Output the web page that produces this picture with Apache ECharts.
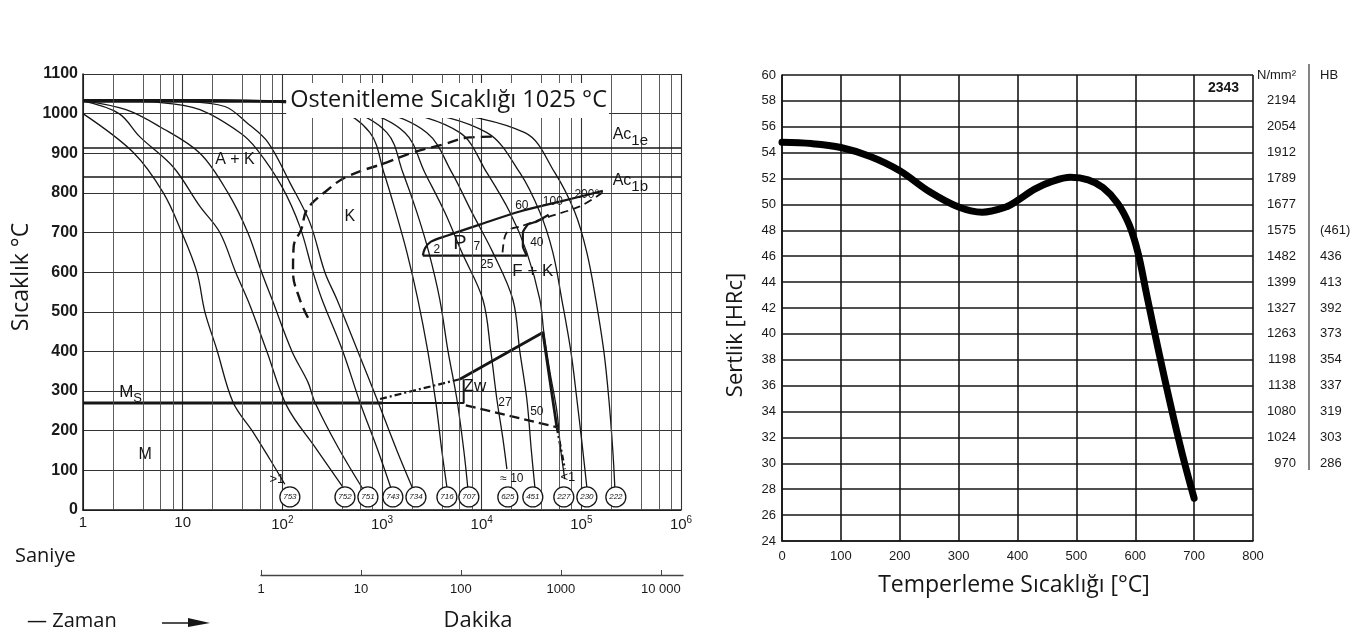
<!DOCTYPE html>
<html>
<head>
<meta charset="utf-8">
<script src="https://cdn.jsdelivr.net/npm/echarts@6.0.0/dist/echarts.min.js"></script>
<style>
html,body{margin:0;padding:0;background:#fff;}
#chart{width:1368px;height:635px;}
</style>
</head>
<body>
<div id="chart"></div>
<script>
// ---------------- LEFT: CCT diagram (time [s] log, temperature [°C]) ----------------
const timeTickLabels = ['1', '10', '10{s|2}', '10{s|3}', '10{s|4}', '10{s|5}', '10{s|6}'];
const minuteTicks = [1, 10, 100, 1000, 10000];
const minuteTickLabels = ['1', '10', '100', '1000', '10 000'];
const minorGridFactors = [2, 4, 6, 8];

const austenitizingLine = [[1, 1030], [84, 1030]];
const ac1eTemp = 915;
const ac1bTemp = 840;

const msThick = [[1, 270], [1000, 270]];
const msThin = [[1000, 270], [6600, 270], [6600, 330]];
const zwEdge = [[6000, 272], [6000, 330]];
const zwStart = [[955, 280], [6039, 330]];
const zwUpper = [[6039, 330], [41100, 448], [56760, 209]];
const zwLower = [[6934, 264], [56760, 209]];
const zwTail = [[56760, 209], [68230, 103]];

const carbideStart = [[181, 485], [150, 531], [128, 600], [130, 665], [155, 708], [177, 758], [270, 803], [445, 841], [1120, 877], [2040, 902], [4080, 922], [7600, 940], [14200, 942]];

const pearliteStart = [[2570, 642], [2700, 660], [3100, 677], [4477, 692], [9550, 720], [24150, 753], [60810, 778], [164300, 805]];
const pearliteBase = [[2570, 642], [28380, 642], [25900, 665], [25900, 700], [29040, 720], [35800, 728], [47000, 745]];
const pearliteEnd = [[16200, 650], [17100, 690], [19190, 708], [24150, 715], [45000, 738], [96600, 766], [164300, 801]];

const cool753 = [[1, 1000], [3.2, 902], [6.4, 800], [9.8, 700], [13.9, 600], [16.7, 500], [22, 405], [32, 272], [51, 196], [75, 128], [106, 65]];
const cool752 = [[1, 1032], [2.3, 1000], [3.7, 942], [8, 866], [14.9, 766], [23.6, 700], [34, 600], [46, 524], [70, 400], [111, 262], [212, 159], [405, 58]];
const cool751 = [[1, 1033], [2.7, 1010], [5.9, 967], [14.9, 900], [28.5, 800], [45, 700], [62, 600], [79, 531], [125, 400], [181, 322], [212, 272], [361, 159], [643, 53]];
const cool743 = [[1, 1034], [6, 1028], [14.9, 1010], [37.6, 952], [55.6, 910], [99, 816], [150, 715], [203, 600], [250, 531], [405, 400], [600, 272], [910, 150], [1257, 48]];
const cool734 = [[1, 1035], [10, 1031], [26.5, 1018], [44, 977], [72, 927], [119, 826], [189, 725], [267, 600], [353, 531], [573, 400], [889, 280], [1410, 150], [2042, 53]];
const cool716 = [[1, 1035], [47, 1031], [337, 1010], [757, 952], [1045, 851], [1378, 751], [1778, 650], [2291, 531], [2884, 400], [3467, 272], [3981, 150], [4477, 58]];
const cool707 = [[1, 1035], [60, 1031], [420, 1010], [1120, 952], [1622, 851], [2239, 751], [2951, 650], [3802, 531], [4600, 400], [5636, 280], [6622, 150], [7278, 53]];
const cool625 = [[1, 1035], [80, 1031], [560, 1010], [1698, 952], [2692, 851], [4266, 751], [6324, 650], [10280, 531], [12360, 400], [14190, 280], [16330, 180], [17910, 103]];
const cool451 = [[1, 1035], [100, 1031], [800, 1010], [2818, 952], [5023, 851], [7980, 751], [12940, 650], [20560, 531], [24150, 400], [28380, 280], [31500, 150], [34170, 58]];
const cool227 = [[1, 1035], [130, 1031], [1200, 1010], [6039, 952], [11270, 851], [19190, 751], [28380, 650], [38360, 531], [42070, 448], [48300, 350], [56760, 250], [62230, 150], [68230, 78]];
const cool230 = [[1, 1035], [160, 1031], [1800, 1010], [11270, 952], [24150, 851], [38360, 751], [51760, 650], [63680, 531], [78500, 400], [90150, 280], [103500, 150], [113500, 58]];
const cool222 = [[1, 1035], [200, 1031], [2500, 1010], [27100, 952], [54200, 851], [86100, 751], [113500, 650], [139700, 531], [168300, 400], [188800, 280], [206900, 150], [216700, 58]];
const coolingCurves = [cool753, cool752, cool751, cool743, cool734, cool716, cool707, cool625, cool451, cool227, cool230, cool222];

const hardnessLabelTimes = [119, 425, 722, 1285, 2190, 4480, 7440, 18300, 32600, 66700, 113600, 222000];
const hardnessLabels = ['753', '752', '751', '743', '734', '716', '707', '625', '451', '227', '230', '222'];
const hardnessLabelTemp = 33;

const noteTimes = [33.5, 477, 6039, 32600, 3550, 8930, 11270, 35800, 25300, 51760, 113500, 8540, 17100, 35800, 20100, 73300, 88, 4.2];
const noteTemps = [884, 740, 672, 602, 657, 665, 620, 675, 768, 778, 795, 312, 272, 249, 78, 83, 78, 141];
const noteTexts = ['A + K', 'K', 'P', 'F + K', '2', '7', '25', '40', '60', '100', '200°', 'Zw', '27', '50', '≈ 10', '<1', '>1', 'M'];
const noteSizes = [16, 16, 20, 17, 12, 12, 12, 12, 12, 12, 12, 17, 12, 12, 12, 13, 13, 16];

// ---------------- RIGHT: tempering curve ----------------
const temperingTemp = [0, 50, 100, 150, 200, 250, 300, 340, 380, 400, 430, 460, 490, 520, 545, 570, 590, 605, 620, 640, 660, 680, 700];
const hardnessHRC = [54.8, 54.7, 54.4, 53.7, 52.6, 51.0, 49.8, 49.4, 49.8, 50.3, 51.2, 51.8, 52.1, 51.9, 51.3, 50.1, 48.4, 46.2, 42.9, 38.6, 34.5, 30.7, 27.3];
const hrcLevels = [60, 58, 56, 54, 52, 50, 48, 46, 44, 42, 40, 38, 36, 34, 32, 30];
const tensileLabels = ['N/mm²', '2194', '2054', '1912', '1789', '1677', '1575', '1482', '1399', '1327', '1263', '1198', '1138', '1080', '1024', '970'];
const brinellLabels = ['HB', '', '', '', '', '', '(461)', '436', '413', '392', '373', '354', '337', '319', '303', '286'];
const steelGrade = '2343';

// ---------------- build ----------------
const INK = '#161616';
const SANS = '"Liberation Sans", Arial, sans-serif';
const TITLE = '"Open Sans", "Noto Sans", sans-serif';

const minorGridTimes = [];
for (let d = 0; d < 6; d++) minorGridTimes.push(...minorGridFactors.map(f => f * Math.pow(10, d)));

function lineSeries(data, opts) {
  return Object.assign({
    type: 'line', xAxisIndex: 0, yAxisIndex: 0, data: data, showSymbol: false, silent: true,
    lineStyle: { color: INK, width: 1.3 }, z: 3
  }, opts || {});
}

const plainLabel = { textBorderWidth: 0, textBorderColor: 'transparent', textShadowBlur: 0 };

const series = [];
series.push({
  type: 'line', xAxisIndex: 0, yAxisIndex: 0, data: [], silent: true, z: 1,
  markLine: {
    silent: true, symbol: ['none', 'none'], animation: false, label: { show: false },
    lineStyle: { color: '#4a4a4a', width: 0.9, type: 'solid' },
    data: minorGridTimes.map(v => ({ xAxis: v }))
  }
});
series.push({
  type: 'line', xAxisIndex: 0, yAxisIndex: 0, data: [], silent: true, z: 2,
  markLine: {
    silent: true, symbol: ['none', 'none'], animation: false, label: { show: false },
    lineStyle: { color: INK, width: 1.6, type: 'solid' },
    data: [{ yAxis: ac1eTemp }, { yAxis: ac1bTemp }]
  }
});
series.push(lineSeries(austenitizingLine, { lineStyle: { color: INK, width: 2.2 } }));
series.push(lineSeries(msThick, { lineStyle: { color: INK, width: 3 } }));
series.push(lineSeries(msThin, { lineStyle: { color: INK, width: 2 } }));
series.push(lineSeries(zwEdge, { lineStyle: { color: INK, width: 1 } }));
series.push(lineSeries(zwStart, { lineStyle: { color: INK, width: 2.2, type: [7, 3, 2, 3] } }));
series.push(lineSeries(zwUpper, { lineStyle: { color: INK, width: 2.8 } }));
series.push(lineSeries(zwLower, { lineStyle: { color: INK, width: 2.2, type: [10, 5] } }));
series.push(lineSeries(zwTail, { lineStyle: { color: INK, width: 2.4, type: [6, 3, 2, 3] } }));
series.push(lineSeries(carbideStart, { smooth: 0.4, lineStyle: { color: INK, width: 2.4, type: [11, 6] } }));
series.push(lineSeries(pearliteStart, { smooth: 0.3, lineStyle: { color: INK, width: 2.2 } }));
series.push(lineSeries(pearliteBase, { smooth: 0.15, lineStyle: { color: INK, width: 2.2 } }));
series.push(lineSeries(pearliteEnd, { smooth: 0.3, lineStyle: { color: INK, width: 1.8, type: [8, 5] } }));
coolingCurves.forEach(c => series.push(lineSeries(c, { smooth: 0.35, lineStyle: { color: INK, width: 1.3 } })));

series.push({
  type: 'scatter', xAxisIndex: 0, yAxisIndex: 0, silent: true, z: 6,
  symbol: 'circle', symbolSize: 20,
  itemStyle: { color: '#fff', borderColor: INK, borderWidth: 1.3, opacity: 1 },
  label: Object.assign({ show: true, position: 'inside', color: INK, fontSize: 8, fontStyle: 'italic', fontFamily: SANS,
    formatter: p => hardnessLabels[p.dataIndex] }, plainLabel),
  data: hardnessLabelTimes.map(t => [t, hardnessLabelTemp])
});

const noteData = noteTexts.map((txt, i) => ({
  value: [noteTimes[i], noteTemps[i]],
  label: { formatter: txt, fontSize: noteSizes[i] }
}));
noteData.push({
  value: [3.0, 297],
  label: { formatter: 'M{sub|S}', fontSize: 17, rich: { sub: { fontSize: 13, padding: [12, 0, 0, 0], fontFamily: SANS, color: INK } } }
});
noteData.push({
  value: [310000, 947],
  label: { formatter: 'Ac{sub|1e}', fontSize: 16, rich: { sub: { fontSize: 15, padding: [13, 0, 0, 0], fontFamily: SANS, color: INK } } }
});
noteData.push({
  value: [310000, 832],
  label: { formatter: 'Ac{sub|1b}', fontSize: 16, rich: { sub: { fontSize: 15, padding: [13, 0, 0, 0], fontFamily: SANS, color: INK } } }
});
noteData.push({
  value: [4550, 1033],
  label: { formatter: 'Ostenitleme Sıcaklığı 1025 °C', fontSize: 23.5, fontFamily: TITLE,
    backgroundColor: '#fff', padding: [2, 2, 9, 4] }
});
series.push({
  type: 'scatter', xAxisIndex: 0, yAxisIndex: 0, silent: true, z: 8,
  symbolSize: 0, itemStyle: { opacity: 1 },
  label: Object.assign({ show: true, position: 'inside', color: INK, fontFamily: SANS }, plainLabel),
  data: noteData
});

series.push({
  type: 'line', xAxisIndex: 2, yAxisIndex: 2, silent: true, z: 5,
  data: temperingTemp.map((t, i) => [t, hardnessHRC[i]]),
  showSymbol: false, smooth: 0.35,
  lineStyle: { color: '#000', width: 7, cap: 'round', join: 'round' }
});
series.push({
  type: 'scatter', xAxisIndex: 2, yAxisIndex: 2, silent: true, z: 6, symbolSize: 0,
  itemStyle: { opacity: 1 },
  data: [[750, 59]],
  label: Object.assign({ show: true, position: 'inside', formatter: steelGrade, fontSize: 14, fontWeight: 'bold', color: INK, fontFamily: SANS }, plainLabel)
});

const option = {
  animation: false,
  backgroundColor: '#fff',
  grid: [
    { left: 83, top: 74, width: 598, height: 436 },
    { left: 261, top: 574, width: 422, height: 1 },
    { left: 782, top: 75, width: 471, height: 466 }
  ],
  xAxis: [
    {
      gridIndex: 0, type: 'log', logBase: 10, min: 1, max: 1e6, splitNumber: 6,
      axisLine: { show: true, lineStyle: { color: INK, width: 1.5 } },
      axisTick: { show: false },
      splitLine: { show: true, lineStyle: { color: '#333', width: 1.1 } },
      axisLabel: {
        color: '#1a1a1a', fontSize: 15, fontFamily: SANS, margin: 5,
        formatter: v => { const i = Math.round(Math.log10(v)); return timeTickLabels[i] || ''; },
        rich: { s: { fontSize: 10, padding: [0, 0, 9, 0], fontFamily: SANS, color: '#1a1a1a' } }
      }
    },
    {
      gridIndex: 1, type: 'log', logBase: 10, min: 1, max: 1e6 / 60,
      axisLine: { show: true, lineStyle: { color: '#444', width: 1.3 } },
      axisTick: { show: true, inside: true, length: 5, customValues: minuteTicks, lineStyle: { color: '#444' } },
      splitLine: { show: false },
      axisLabel: {
        customValues: minuteTicks, color: '#1a1a1a', fontSize: 13, fontFamily: SANS, margin: 8,
        formatter: v => minuteTickLabels[Math.round(Math.log10(v))] || ''
      }
    },
    {
      gridIndex: 2, type: 'value', min: 0, max: 800, interval: 100,
      axisLine: { show: true, lineStyle: { color: INK, width: 1.6 } },
      axisTick: { show: false },
      splitLine: { show: true, lineStyle: { color: INK, width: 1.6 } },
      axisLabel: { color: '#1a1a1a', fontSize: 13, fontFamily: SANS, margin: 9 }
    }
  ],
  yAxis: [
    {
      gridIndex: 0, type: 'value', min: 0, max: 1100, interval: 100,
      axisLine: { show: true, lineStyle: { color: INK, width: 1.5 } },
      axisTick: { show: false },
      splitLine: { show: true, lineStyle: { color: '#333', width: 1.1 } },
      axisLabel: { color: '#1a1a1a', fontSize: 16, fontWeight: 'bold', fontFamily: SANS, margin: 5, formatter: v => String(v) }
    },
    { gridIndex: 1, type: 'value', show: false },
    {
      gridIndex: 2, type: 'value', min: 24, max: 60, interval: 2,
      axisLine: { show: true, lineStyle: { color: INK, width: 1.6 } },
      axisTick: { show: false },
      splitLine: { show: true, lineStyle: { color: INK, width: 1.6 } },
      axisLabel: { color: '#1a1a1a', fontSize: 13, fontFamily: SANS, margin: 6 }
    },
    {
      gridIndex: 2, type: 'value', min: 24, max: 60, interval: 2, position: 'right',
      axisLine: { show: false }, axisTick: { show: false }, splitLine: { show: false },
      axisLabel: {
        color: '#1a1a1a', fontSize: 13, fontFamily: SANS, margin: 43, align: 'right',
        formatter: v => { const i = hrcLevels.indexOf(v); return i >= 0 ? tensileLabels[i] : ''; }
      }
    },
    {
      gridIndex: 2, type: 'value', min: 24, max: 60, interval: 2, position: 'right',
      axisLine: { show: false }, axisTick: { show: false }, splitLine: { show: false },
      axisLabel: {
        color: '#1a1a1a', fontSize: 13, fontFamily: SANS, margin: 67, align: 'left',
        formatter: v => { const i = hrcLevels.indexOf(v); return i >= 0 ? brinellLabels[i] : ''; }
      }
    }
  ],
  graphic: [
    { type: 'text', x: 21, y: 277, rotation: Math.PI / 2,
      style: { text: 'Sıcaklık °C', font: '23px "Open Sans"', fill: INK, align: 'center', verticalAlign: 'middle' } },
    { type: 'text', x: 15, y: 556,
      style: { text: 'Saniye', font: '20px "Open Sans"', fill: INK, align: 'left', verticalAlign: 'middle' } },
    { type: 'text', x: 27, y: 621,
      style: { text: '— Zaman', font: '20px "Open Sans"', fill: INK, align: 'left', verticalAlign: 'middle' } },
    { type: 'line', shape: { x1: 162, y1: 623, x2: 196, y2: 623 }, style: { stroke: INK, lineWidth: 1.6 } },
    { type: 'polygon', shape: { points: [[188, 618], [210, 623], [188, 627]] }, style: { fill: INK } },
    { type: 'text', x: 478, y: 621,
      style: { text: 'Dakika', font: '22px "Open Sans"', fill: INK, align: 'center', verticalAlign: 'middle' } },
    { type: 'text', x: 736, y: 335, rotation: Math.PI / 2,
      style: { text: 'Sertlik [HRc]', font: '22px "Open Sans"', fill: INK, align: 'center', verticalAlign: 'middle' } },
    { type: 'text', x: 1014, y: 585,
      style: { text: 'Temperleme Sıcaklığı [°C]', font: '23px "Open Sans"', fill: INK, align: 'center', verticalAlign: 'middle' } },
    { type: 'line', shape: { x1: 1309, y1: 64, x2: 1309, y2: 470 }, style: { stroke: '#333', lineWidth: 1.2 } }
  ],
  series: series
};

const chart = echarts.init(document.getElementById('chart'), null, { renderer: 'canvas' });
chart.setOption(option);
</script>
</body>
</html>
